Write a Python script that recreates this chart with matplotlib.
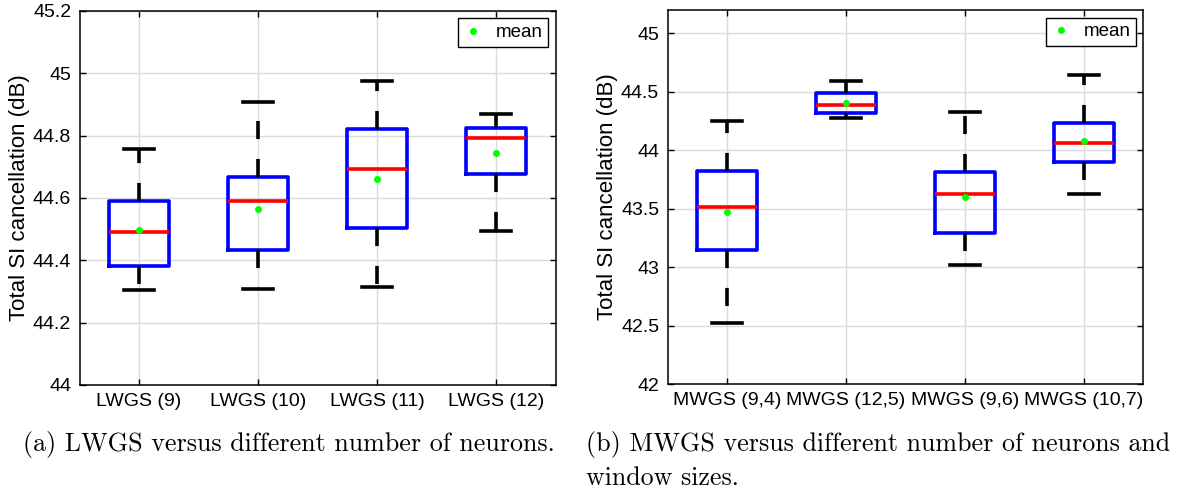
import matplotlib
matplotlib.use("Agg")
import matplotlib.pyplot as plt

plt.rcParams['font.family'] = ['Liberation Sans', 'DejaVu Sans']

# values
lwgs_labels = ["LWGS (9)", "LWGS (10)", "LWGS (11)", "LWGS (12)"]
lwgs_whislo = [44.304, 44.307, 44.314, 44.494]
lwgs_q1 = [44.382, 44.434, 44.503, 44.677]
lwgs_med = [44.490, 44.590, 44.692, 44.791]
lwgs_q3 = [44.589, 44.667, 44.821, 44.826]
lwgs_whishi = [44.758, 44.907, 44.974, 44.868]
lwgs_mean = [44.498, 44.565, 44.662, 44.745]
lwgs_yticks = [44, 44.2, 44.4, 44.6, 44.8, 45, 45.2]

mwgs_labels = ["MWGS (9,4)", "MWGS (12,5)", "MWGS (9,6)", "MWGS (10,7)"]
mwgs_whislo = [42.522, 44.279, 43.016, 43.623]
mwgs_q1 = [43.147, 44.316, 43.289, 43.902]
mwgs_med = [43.513, 44.387, 43.626, 44.061]
mwgs_q3 = [43.820, 44.486, 43.814, 44.237]
mwgs_whishi = [44.254, 44.591, 44.330, 44.648]
mwgs_mean = [43.476, 44.407, 43.598, 44.075]
mwgs_yticks = [42, 42.5, 43, 43.5, 44, 44.5, 45]

caption_a = "(a) LWGS versus different number of neurons."
caption_b1 = "(b) MWGS versus different number of neurons and"
caption_b2 = "window sizes."


def draw_panel(ax, labels, whislo, q1, med, q3, whishi, mean, ylim, yticks, ticklabels):
    stats = [dict(label=l, whislo=a, q1=b, med=c, q3=d, whishi=e, mean=m)
             for l, a, b, c, d, e, m in zip(labels, whislo, q1, med, q3, whishi, mean)]
    lw = 2.6
    res = ax.bxp(stats, positions=[1, 2, 3, 4], widths=0.5, capwidths=0.25,
                 showmeans=True, showfliers=False,
                 boxprops=dict(color='blue', linewidth=lw),
                 medianprops=dict(color='red', linewidth=lw),
                 whiskerprops=dict(color='black', linewidth=lw, linestyle=(0, (5, 5.5))),
                 capprops=dict(color='black', linewidth=lw),
                 meanprops=dict(marker='o', markerfacecolor=(0, 1, 0),
                                markeredgecolor=(0, 1, 0), markersize=4,
                                linestyle='none'))
    ax.set_xlim(0.5, 4.5)
    ax.set_ylim(*ylim)
    ax.set_yticks(yticks)
    ax.set_yticklabels(ticklabels)
    ax.grid(True, color=(0.86, 0.86, 0.86), linewidth=1)
    ax.set_axisbelow(True)
    ax.tick_params(direction='in', top=True, right=True, length=4, width=1,
                   labelsize=14, pad=6)
    for s in ax.spines.values():
        s.set_linewidth(1.1)
    ax.set_ylabel("Total SI cancellation (dB)", fontsize=16, labelpad=2)
    res['means'][0].set_label('mean')
    leg = ax.legend(handles=[res['means'][0]], loc='upper right', fontsize=13.5,
                    fancybox=False, framealpha=1, edgecolor='black',
                    handlelength=1.0, handletextpad=0.7, borderpad=0.3,
                    borderaxespad=0.4)
    leg.get_frame().set_linewidth(1.0)


fig = plt.figure(figsize=(11.89, 4.91), dpi=100)
ax1 = fig.add_axes([0.0669, 0.2159, 0.4003, 0.7617])
ax2 = fig.add_axes([0.5614, 0.2179, 0.4003, 0.7617])

draw_panel(ax1, lwgs_labels, lwgs_whislo, lwgs_q1, lwgs_med, lwgs_q3, lwgs_whishi,
           lwgs_mean, (44, 45.2), lwgs_yticks, ["44", "44.2", "44.4", "44.6", "44.8", "45", "45.2"])
draw_panel(ax2, mwgs_labels, mwgs_whislo, mwgs_q1, mwgs_med, mwgs_q3, mwgs_whishi,
           mwgs_mean, (42, 45.2), mwgs_yticks, ["42", "42.5", "43", "43.5", "44", "44.5", "45"])

fig.text(23 / 1189, 1 - 451 / 491, caption_a, family='cmr10', fontsize=18.7, va='baseline')
fig.text(586 / 1189, 1 - 451 / 491, caption_b1, family='cmr10', fontsize=18.7, va='baseline')
fig.text(586 / 1189, 1 - 485 / 491, caption_b2, family='cmr10', fontsize=18.7, va='baseline')

fig.savefig("out.png", dpi=100)
